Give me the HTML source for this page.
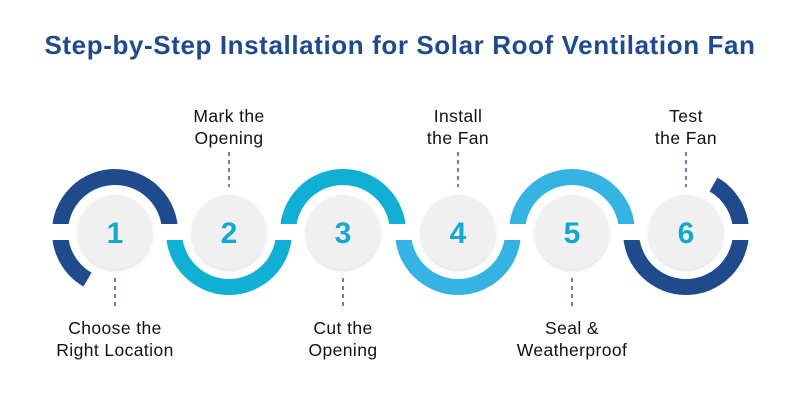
<!DOCTYPE html>
<html><head><meta charset="utf-8"><style>
html,body{margin:0;padding:0;background:#fff;}
svg{display:block;}
</style></head><body>
<svg width="801" height="417" viewBox="0 0 801 417" xmlns="http://www.w3.org/2000/svg" font-family="'Liberation Sans', sans-serif">
<defs>
<filter id="sh" x="-30%" y="-30%" width="160%" height="160%"><feDropShadow dx="0" dy="1.5" stdDeviation="1.5" flood-color="#000" flood-opacity="0.15"/></filter>
</defs>
<rect width="801" height="417" fill="#fff"/>
<text x="400" y="54" text-anchor="middle" font-size="26" font-weight="bold" fill="#1f4a8c" letter-spacing="0.6">Step-by-Step Installation for Solar Roof Ventilation Fan</text>
<g fill="none" stroke-width="16">
<path d="M60,232 A55,55 0 0 1 170,232" stroke="#1f4a8c"/>
<path d="M60,232 A55,55 0 0 0 87.5,279.6" stroke="#1f4a8c"/>
<path d="M174,232 A55,55 0 0 0 284,232" stroke="#0fb0d3"/>
<path d="M288,232 A55,55 0 0 1 398,232" stroke="#0fb0d3"/>
<path d="M403,232 A55,55 0 0 0 513,232" stroke="#35b3e3"/>
<path d="M517,232 A55,55 0 0 1 627,232" stroke="#35b3e3"/>
<path d="M631,232 A55,55 0 0 0 741,232" stroke="#1f4a8c"/>
<path d="M741,232 A55,55 0 0 0 713.5,184.4" stroke="#1f4a8c"/>
</g>
<rect x="45" y="224" width="710" height="16" fill="#fff"/>
<g fill="#f0f0f0" filter="url(#sh)">
<circle cx="115" cy="232" r="37"/><circle cx="229" cy="232" r="37"/><circle cx="343" cy="232" r="37"/>
<circle cx="458" cy="232" r="37"/><circle cx="572" cy="232" r="37"/><circle cx="686" cy="232" r="37"/>
</g>
<g font-size="30" font-weight="bold" fill="#14a8d0" text-anchor="middle">
<text x="115" y="243">1</text><text x="229" y="243">2</text><text x="343" y="243">3</text>
<text x="458" y="243">4</text><text x="572" y="243">5</text><text x="686" y="243">6</text>
</g>
<g stroke="#1f3f6e" stroke-width="1.3" stroke-dasharray="4,4">
<line x1="229" y1="152" x2="229" y2="187"/><line x1="458" y1="152" x2="458" y2="187"/><line x1="686" y1="152" x2="686" y2="187"/>
<line x1="115" y1="278" x2="115" y2="310"/><line x1="343" y1="278" x2="343" y2="310"/><line x1="572" y1="278" x2="572" y2="310"/>
</g>
<g font-size="17.5" fill="#111" text-anchor="middle" letter-spacing="0.4">
<text x="229" y="122">Mark the</text><text x="229" y="144">Opening</text>
<text x="458" y="122">Install</text><text x="458" y="144">the Fan</text>
<text x="686" y="122">Test</text><text x="686" y="144">the Fan</text>
<text x="115" y="334">Choose the</text><text x="115" y="356">Right Location</text>
<text x="343" y="334">Cut the</text><text x="343" y="356">Opening</text>
<text x="572" y="334">Seal &amp;</text><text x="572" y="356">Weatherproof</text>
</g>
</svg>
</body></html>
